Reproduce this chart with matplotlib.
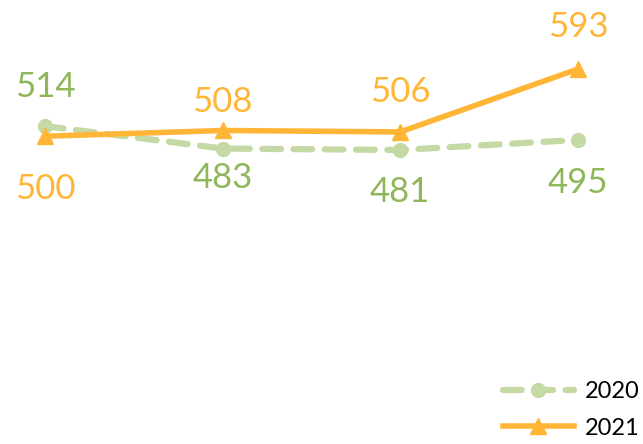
import matplotlib.pyplot as plt

# data
categories = ['A', 'B', 'C', 'D']
values_2020 = [514, 483, 481, 495]
values_2021 = [500, 508, 506, 593]

green_line = '#C5D9A4'
green_text = '#8FB658'
orange = '#FFB636'

plt.rcParams['font.family'] = ['Lato', 'DejaVu Sans']

fig = plt.figure(figsize=(6.43, 4.44), dpi=100)
ax = fig.add_axes([0, 0, 1, 1])

x = range(len(categories))
ax.plot(x, values_2020, color=green_line, lw=4.5, ls=(0, (3, 2)), marker='o',
        ms=10, dash_capstyle='round', label='2020')
ax.plot(x, values_2021, color=orange, lw=4, marker='^', ms=12, label='2021')

# etiquetas: 2020 arriba/abajo según el caso
off_2020 = [39, -29, -42, -43]
off_2021 = [-53, 28, 40, 42]
for i, (a, b) in enumerate(zip(values_2020, values_2021)):
    ax.annotate(str(a), (i, a), xytext=(0, off_2020[i]), textcoords='offset pixels',
                ha='center', va='center', fontsize=25, color=green_text)
    ax.annotate(str(b), (i, b), xytext=(0, off_2021[i]), textcoords='offset pixels',
                ha='center', va='center', fontsize=25, color=orange)

ax.set_xlim(-0.253, 3.366)
ax.set_ylim(74.5, 688.4)
ax.axis('off')

ax.legend(loc='lower right', bbox_to_anchor=(1.012, -0.012), frameon=False,
          fontsize=17, handlelength=3.0, handletextpad=0.5, labelspacing=0.65,
          borderaxespad=0.05)

fig.savefig('out.png', dpi=100)
